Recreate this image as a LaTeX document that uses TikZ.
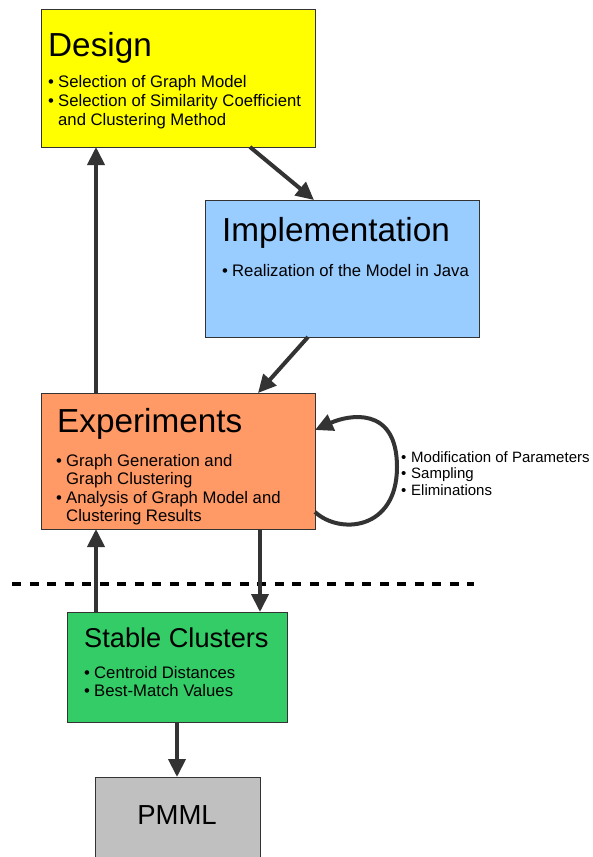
\documentclass[tikz,border=0pt]{standalone}
\usepackage{fontspec}
\setmainfont{Liberation Sans}
\usetikzlibrary{arrows.meta}
\definecolor{boxline}{HTML}{333333}
\definecolor{arrc}{HTML}{333333}
\definecolor{cdesign}{HTML}{FFFF00}
\definecolor{cimpl}{HTML}{99CCFF}
\definecolor{cexp}{HTML}{FF9966}
\definecolor{cstable}{HTML}{33CC66}
\definecolor{cpmml}{HTML}{C0C0C0}
\newcommand{\bul}{\makebox[10pt][l]{•}}
\tikzset{
  box/.style={draw=boxline, line width=0.8pt, anchor=north west, inner sep=0pt, outer sep=0pt},
  ttl/.style={anchor=base west, inner sep=0pt, font=\fontsize{33.3}{36}\selectfont},
  sttl/.style={anchor=base west, inner sep=0pt, font=\fontsize{27.2}{30}\selectfont},
  itm/.style={anchor=base west, inner sep=0pt, font=\fontsize{16.7}{19}\selectfont},
  litm/.style={anchor=base west, inner sep=0pt, font=\fontsize{15}{18}\selectfont},
  arr/.style={draw=arrc, line width=4pt, -{Triangle[length=18pt,width=17pt]}},
}
\begin{document}
\begin{tikzpicture}[x=1pt,y=-1pt]
\useasboundingbox[fill=white] (0,0) rectangle (592,857);

% boxes
\node[box, fill=cdesign, minimum width=274pt, minimum height=138pt] (design) at (41,9) {};
\node[box, fill=cimpl, minimum width=274pt, minimum height=137pt] (impl) at (205,200) {};
\node[box, fill=cexp, minimum width=274pt, minimum height=136pt] (exp) at (41,393) {};
\node[box, fill=cstable, minimum width=220pt, minimum height=110pt] (stable) at (67,612) {};
\node[box, fill=cpmml, minimum width=165pt, minimum height=100pt] (pmml) at (95,777) {};

% design text
\node[ttl] (dt) at (48,56) {Design};
\node[itm] (d1) at (48,87) {\bul Selection of Graph Model};
\node[itm] (d2) at (48,106) {\bul Selection of Similarity Coefficient};
\node[itm] (d3) at (58,125) {and Clustering Method};

% implementation text
\node[ttl] (it) at (222,241) {Implementation};
\node[itm] (i1) at (222,276) {\bul Realization of the Model in Java};

% experiments text
\node[ttl] (et) at (57,432) {Experiments};
\node[itm] (e1) at (56,466) {\bul Graph Generation and};
\node[itm] (e2) at (66,484.5) {Graph Clustering};
\node[itm] (e3) at (56,503) {\bul Analysis of Graph Model and};
\node[itm] (e4) at (66,521.5) {Clustering Results};

% stable clusters text
\node[sttl] (st) at (84,647) {Stable Clusters};
\node[itm] (s1) at (84,678) {\bul Centroid Distances};
\node[itm] (s2) at (84,696) {\bul Best-Match Values};

% pmml text
\node[anchor=base, inner sep=0pt, font=\fontsize{27.5}{30}\selectfont] (pt) at (177,824) {PMML};

% loop text
\node[litm] (l1) at (401,462) {\makebox[10pt][l]{•}Modification of Parameters};
\node[litm] (l2) at (401,478.5) {\makebox[10pt][l]{•}Sampling};
\node[litm] (l3) at (401,495) {\makebox[10pt][l]{•}Eliminations};

% dashed separator
\coordinate (dl) at (12,584);
\coordinate (dr) at (474,584);
\draw[line width=4.5pt, draw=black, dash pattern=on 9pt off 8.5pt] (dl) -- (dr);

% connectors
\coordinate (a1s) at (250,147);
\coordinate (a1e) at (314,200);
\draw[arr] (a1s) -- (a1e);
\coordinate (a2s) at (308,337);
\coordinate (a2e) at (258,393);
\draw[arr] (a2s) -- (a2e);
\draw[arr] (96,0 |- exp.north) -- (96,0 |- design.south);
\draw[arr] (96,0 |- stable.north) -- (96,0 |- exp.south);
\draw[arr] (260,0 |- exp.south) -- (260,0 |- stable.north);
\draw[arr] (177,0 |- stable.south) -- (177,0 |- pmml.north);
\coordinate (lp) at (397,467);
\draw[arr] (exp.east |- 0,512) .. controls (340,535) and (397,530) .. (lp)
  .. controls (397,405) and (348,415) .. (exp.east |- 0,430);
\end{tikzpicture}
\end{document}
